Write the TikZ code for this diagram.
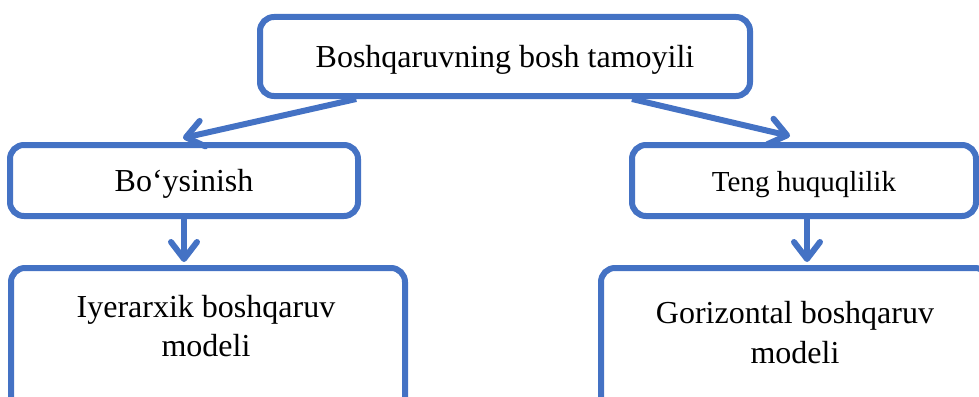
\documentclass[tikz,border=0pt]{standalone}
\usepackage{fontspec}
\setmainfont{Liberation Serif}
\usepackage{tikz}
\usetikzlibrary{arrows.meta,calc}
\definecolor{officeblue}{RGB}{68,114,196}

\begin{document}
\begin{tikzpicture}[x=1pt, y=-1pt,
        box/.style={draw=officeblue, line width=6pt, rounded corners=14pt, inner sep=0pt, text height=22pt, text depth=1pt, font=\fontsize{32}{39.5}\selectfont},
        boxtext/.style={align=center, inner sep=0pt, font=\fontsize{32}{39.5}\selectfont},
        link/.style={draw=officeblue, line width=6pt, -{Straight Barb[length=17pt, width=26pt, round]}}]
        \useasboundingbox (0,0) rectangle (979,396);
        \clip (0,0) rectangle (979,396);
        \node[box, minimum width=490pt, minimum height=79pt] (top) at (505, 56.5) {Boshqaruvning bosh tamoyili};
        \node[box, minimum width=348pt, minimum height=71pt] (sub) at (184, 180.5) {Bo‘ysinish};
        \node[box, minimum width=344pt, minimum height=71pt, font=\fontsize{29}{35}\selectfont] (equal) at (804, 180.5) {Teng huquqlilik};
        \node[box, minimum width=394pt, minimum height=150pt] (hier) at (208, 343) {};
        \node[box, minimum width=388pt, minimum height=150pt] (horiz) at (795, 343) {};
        \node[boxtext] (hiertext) at (206, 326) {Iyerarxik boshqaruv\\modeli};
        \node[boxtext] (horiztext) at (795, 332.5) {Gorizontal boshqaruv\\modeli};

        \draw[link] ($(top.south west)!0.2!(top.south east)$) -- ([xshift=-1pt, yshift=4pt]sub.north);
        \draw[link] ($(top.south west)!0.756!(top.south east)$) -- ([xshift=-14pt, yshift=6pt]equal.north);
        \draw[link] (sub.south) -- ([yshift=3pt]sub.south |- hier.north);
        \draw[link] ([xshift=3pt]equal.south) -- ([xshift=3pt, yshift=3pt]equal.south |- horiz.north);
    \end{tikzpicture}
\end{document}
